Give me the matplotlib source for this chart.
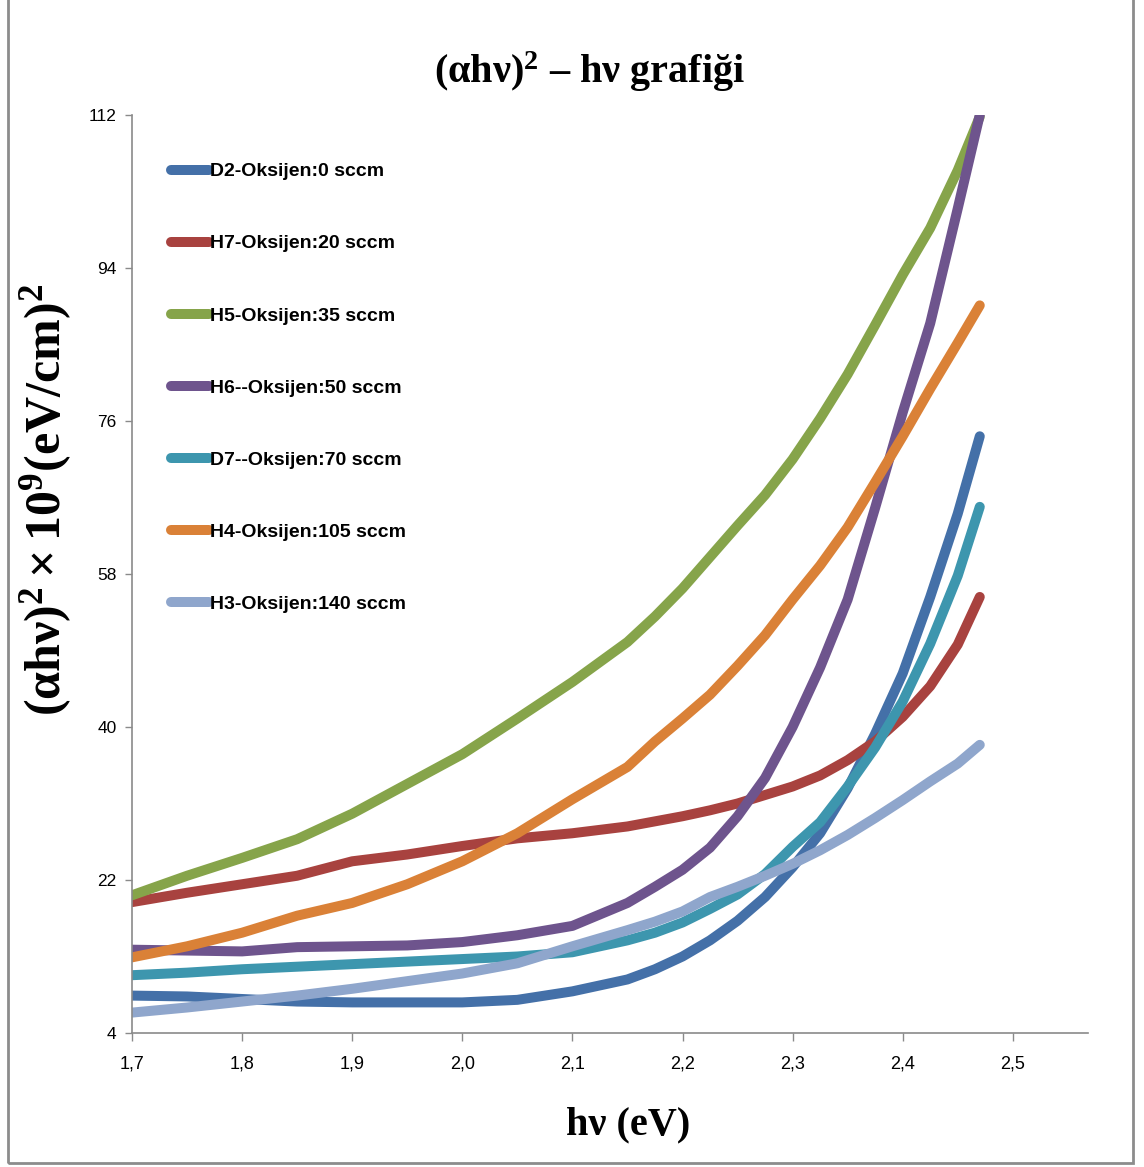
import matplotlib
matplotlib.use("Agg")
import matplotlib.pyplot as plt
from matplotlib.patches import Rectangle
from matplotlib.ticker import FuncFormatter

plt.rcParams['mathtext.fontset'] = 'custom'
plt.rcParams['mathtext.rm'] = 'Liberation Serif:bold'
plt.rcParams['mathtext.it'] = 'Liberation Serif:bold'
plt.rcParams['mathtext.bf'] = 'Liberation Serif:bold'

# photon energy (eV)
hv = [1.70, 1.75, 1.80, 1.85, 1.90, 1.95, 2.00, 2.05, 2.10, 2.15, 2.175,
      2.20, 2.225, 2.25, 2.275, 2.30, 2.325, 2.35, 2.375, 2.40, 2.425, 2.45, 2.47]

# (alpha h nu)^2 x 1e9 (eV/cm)^2
d2_0 = [8.4, 8.3, 8.0, 7.7, 7.6, 7.6, 7.6, 7.9, 8.9, 10.3, 11.5,
        13.0, 14.9, 17.2, 20.0, 23.5, 27.5, 32.8, 39.2, 46.3, 55.3, 65.1, 74.2]
h7_20 = [19.4, 20.5, 21.5, 22.5, 24.2, 25.0, 26.0, 26.9, 27.5, 28.3, 28.9,
         29.5, 30.2, 31.0, 32.0, 33.0, 34.3, 36.1, 38.3, 41.2, 44.8, 49.7, 55.3]
h5_35 = [20.2, 22.5, 24.6, 26.8, 29.8, 33.3, 36.8, 41.0, 45.3, 50.0, 53.0,
         56.3, 60.0, 63.7, 67.3, 71.5, 76.3, 81.5, 87.3, 93.2, 98.7, 105.5, 111.8]
h6_50 = [13.8, 13.7, 13.6, 14.1, 14.2, 14.3, 14.7, 15.5, 16.6, 19.3, 21.2,
         23.2, 25.8, 29.5, 34.0, 40.0, 47.0, 55.0, 65.8, 77.0, 87.5, 101.0, 112.0]
d7_70 = [10.8, 11.1, 11.5, 11.8, 12.1, 12.4, 12.7, 13.0, 13.5, 14.9, 15.8,
         17.0, 18.6, 20.3, 22.7, 25.9, 28.8, 33.0, 37.6, 43.0, 49.8, 57.8, 65.9]
h4_105 = [12.9, 14.2, 15.8, 17.8, 19.3, 21.5, 24.2, 27.5, 31.5, 35.3, 38.3,
          41.0, 43.8, 47.2, 50.8, 55.0, 59.0, 63.5, 68.8, 74.2, 79.8, 85.2, 89.6]
h3_140 = [6.4, 7.0, 7.7, 8.4, 9.2, 10.1, 11.0, 12.2, 14.2, 16.1, 17.1,
          18.3, 20.0, 21.2, 22.5, 23.9, 25.5, 27.3, 29.3, 31.4, 33.6, 35.7, 37.9]

labels = ["D2-Oksijen:0 sccm", "H7-Oksijen:20 sccm", "H5-Oksijen:35 sccm",
          "H6--Oksijen:50 sccm", "D7--Oksijen:70 sccm", "H4-Oksijen:105 sccm",
          "H3-Oksijen:140 sccm"]
colors = ["#4470A8", "#A8423F", "#86A44A", "#6E548D", "#3D96AE", "#DA8137", "#8FA6CC"]
series = [d2_0, h7_20, h5_35, h6_50, d7_70, h4_105, h3_140]

yticks = [4, 22, 40, 58, 76, 94, 112]
xticks = [1.7, 1.8, 1.9, 2.0, 2.1, 2.2, 2.3, 2.4, 2.5]

W, H = 1144, 1167
fig = plt.figure(figsize=(W / 100, H / 100), dpi=100)
ax = fig.add_axes([132 / W, 1 - 1033 / H, (1088 - 132) / W, (1033 - 115) / H])

for y, c, lab in zip(series, colors, labels):
    ax.plot(hv, y, color=c, lw=7.2, solid_capstyle='round',
            solid_joinstyle='round', label=lab)

ax.set_xlim(1.7, 1.7 + (1088 - 132) / 1101)
ax.set_ylim(4, 112)
ax.set_xticks(xticks)
ax.set_yticks(yticks)
ax.xaxis.set_major_formatter(FuncFormatter(lambda v, p: f"{v:.1f}".replace(".", ",")))

for s in ["top", "right"]:
    ax.spines[s].set_visible(False)
for s in ["left", "bottom"]:
    ax.spines[s].set_color("#8a8a8a")
    ax.spines[s].set_linewidth(1.2)
ax.tick_params(axis='both', direction='out', color='#8a8a8a', width=1.0)
ax.tick_params(axis='x', length=6, pad=10, labelsize=13)
ax.tick_params(axis='y', length=5, pad=6, labelsize=12.5)
for t in ax.get_xticklabels() + ax.get_yticklabels():
    t.set_family('Liberation Sans')

leg = ax.legend(loc='upper left', bbox_to_anchor=(0.022, 0.967), frameon=False,
                handlelength=2.0, handletextpad=0.05, labelspacing=2.8,
                prop={'family': 'Liberation Sans', 'weight': 'bold', 'size': 14})
for ln in leg.get_lines():
    ln.set_linewidth(7.2)
    ln.set_solid_capstyle('round')

fig.text(590 / W, 1 - 72 / H, r"$(\alpha h\nu)^2$ – hν grafiği", ha='center', va='center',
         family='Liberation Serif', weight='bold', size=29)
fig.text(46 / W, 1 - 500 / H, r"$(\alpha h\nu)^2\times10^9(eV/cm)^2$", ha='center', va='center',
         rotation=90, family='Liberation Serif', weight='bold', size=36)
fig.text(628 / W, 1 - 1125 / H, "hν (eV)", ha='center', va='center',
         family='Liberation Serif', weight='bold', size=29)

fig.add_artist(Rectangle((8 / W, 4 / H), (1133 - 8) / W, 1.2, transform=fig.transFigure,
                         fill=False, edgecolor='#8c8c8c', lw=2))

fig.savefig("out.png", dpi=100)
